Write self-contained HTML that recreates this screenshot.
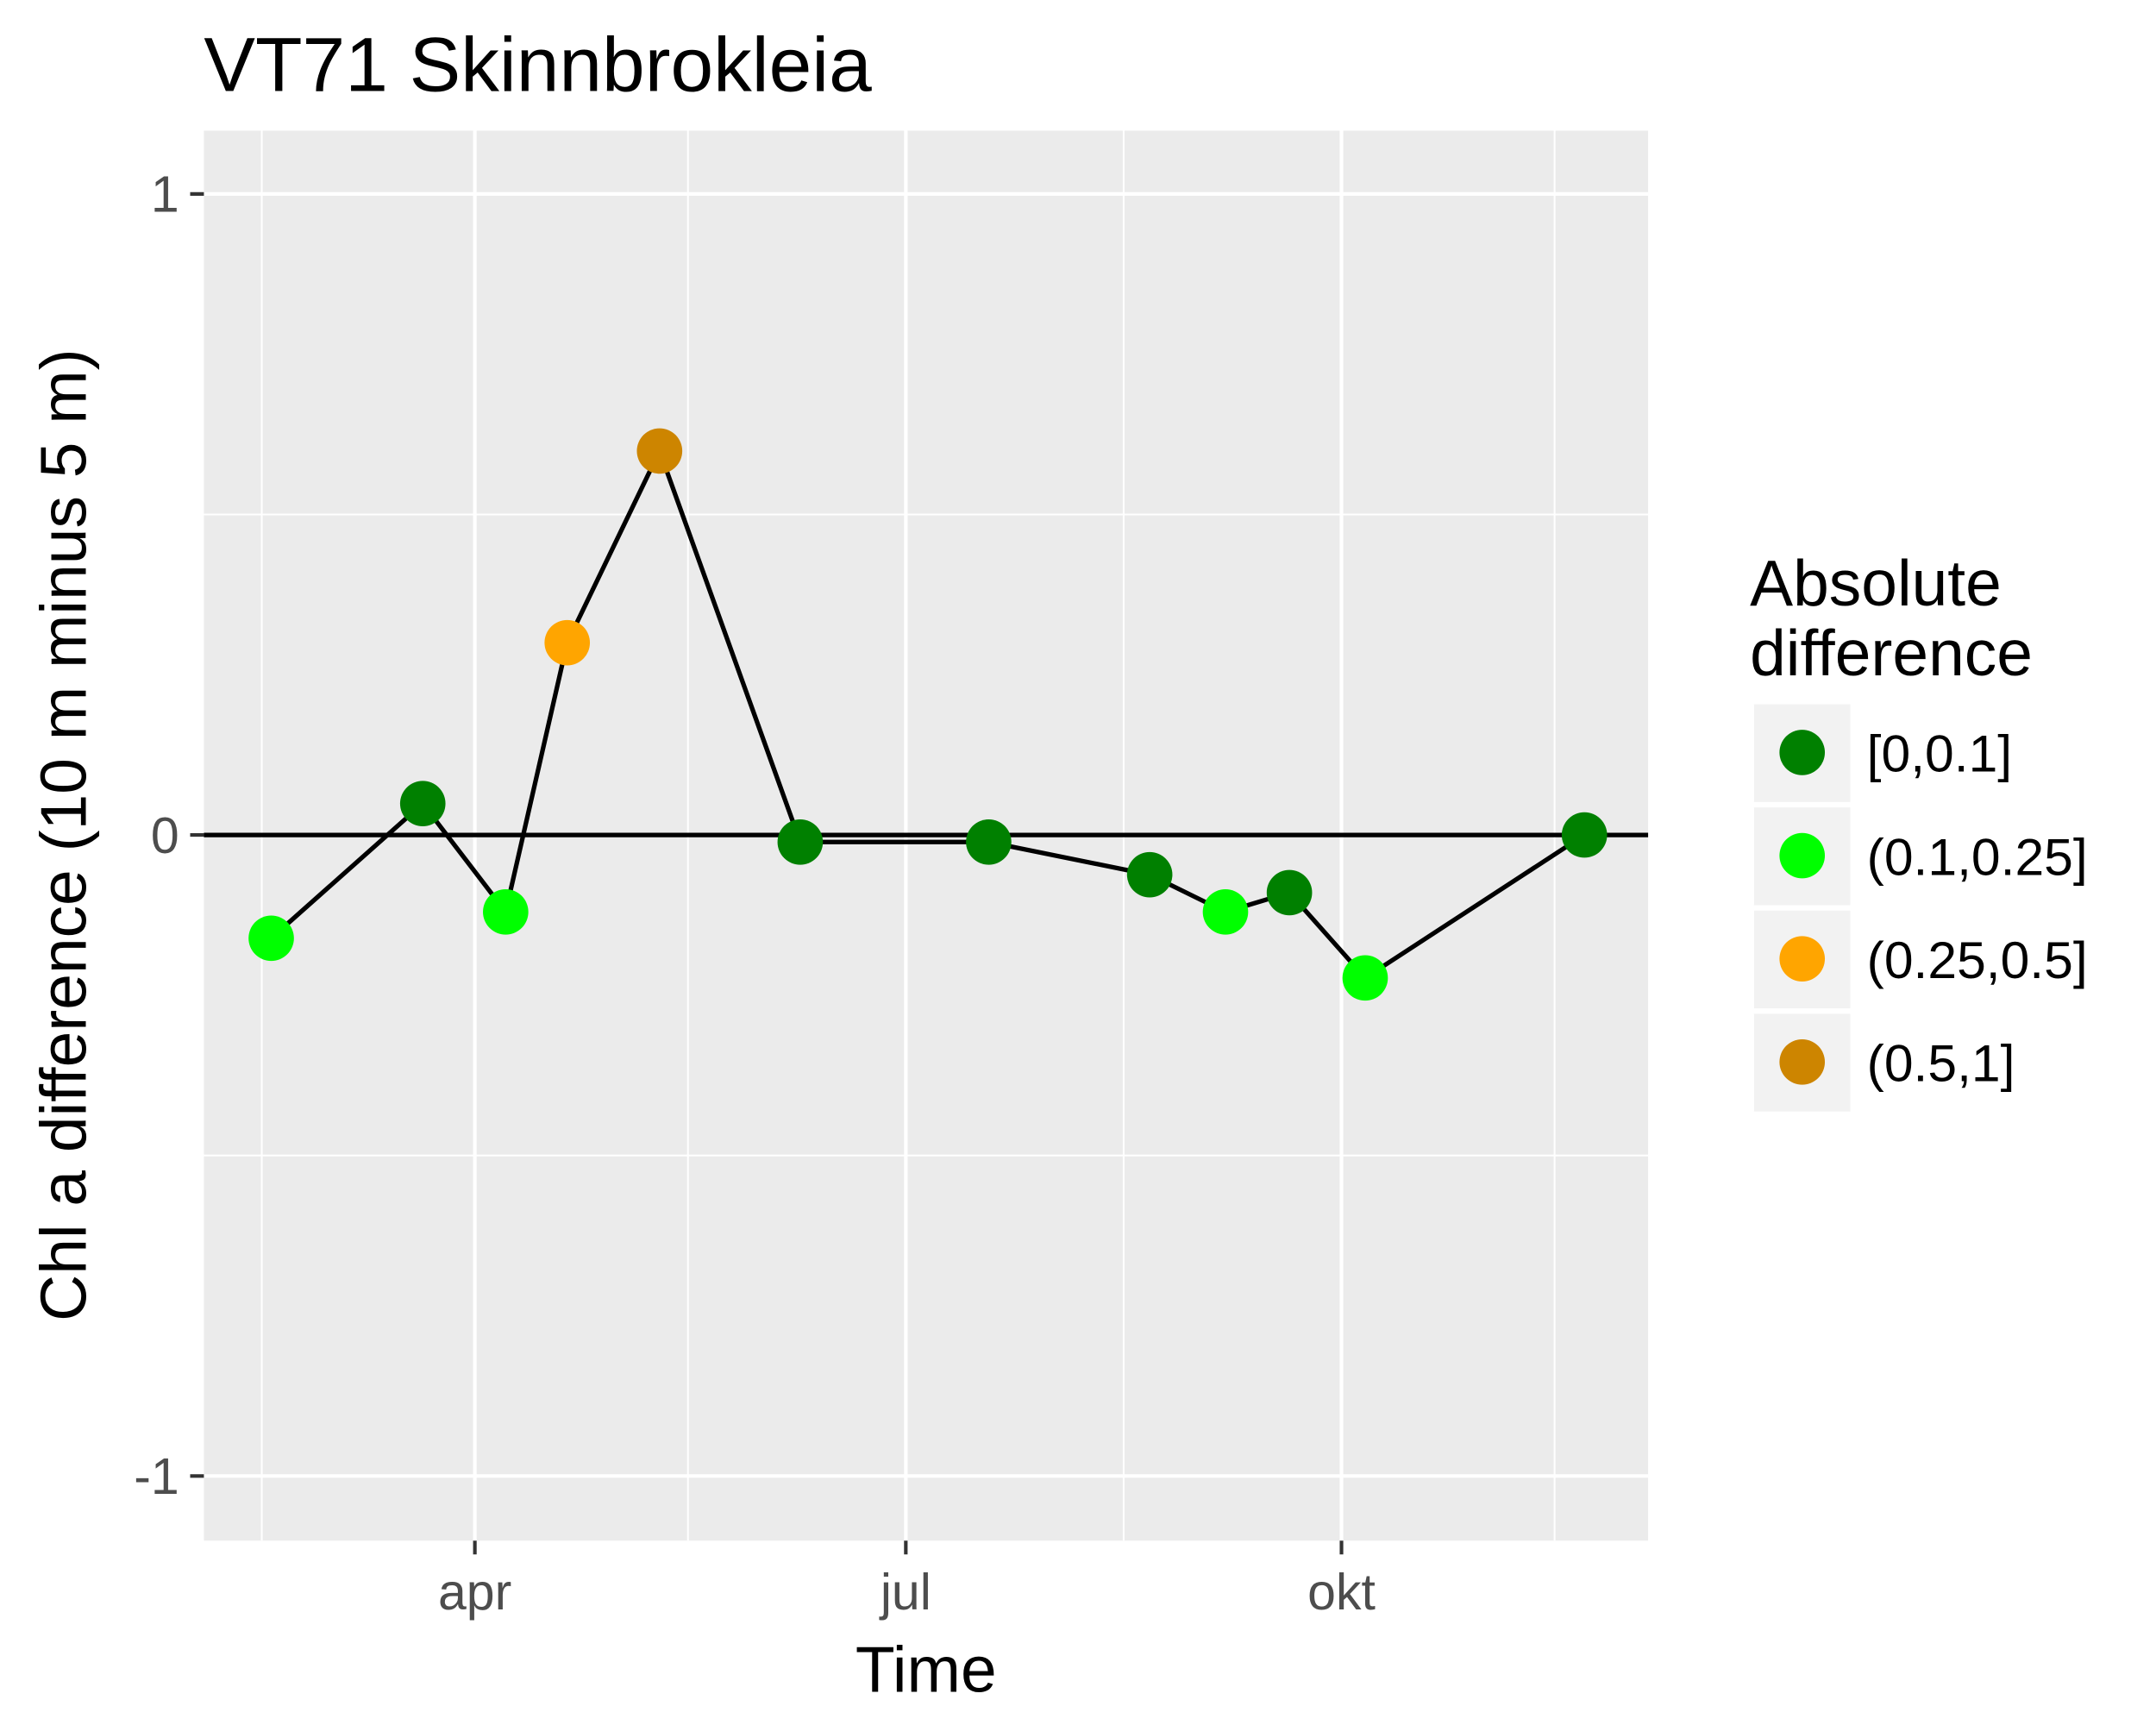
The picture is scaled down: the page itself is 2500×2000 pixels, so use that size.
<!DOCTYPE html>
<html><head><meta charset="utf-8"><style>html,body{margin:0;padding:0;background:#fff}svg{display:block}text{font-family:"Liberation Sans",Arial,sans-serif}</style></head>
<body>
<svg id="chart" width="2500" height="2000" viewBox="0 0 1567 1254" xmlns="http://www.w3.org/2000/svg">
<rect width="1567" height="1254" fill="#fff"/>
<text x="148" y="66" font-size="56" fill="#000">VT71 Skinnbrokleia</text>
<rect x="148" y="95" width="1050" height="1025" fill="#ebebeb"/>
<g id="grid"></g>
<line x1="148" x2="1198" y1="607" y2="607" stroke="#000" stroke-width="3.3" id="zeroline"/>
<g id="series"></g>
<g id="axes"></g>
<text x="673" y="1230" font-size="47" text-anchor="middle">Time</text>
<text transform="translate(62,607) rotate(-90)" font-size="47" text-anchor="middle">Chl a difference (10 m minus 5 m)</text>
<g>
<text x="1272" y="440" font-size="47"><tspan x="1272">Absolute</tspan><tspan x="1272" y="491">difference</tspan></text>
<g id="legend-keys"></g>
</g>
</svg>
<script>
const dayOfYear = [48, 80, 97.5, 110.5, 130, 159.7, 199.5, 233.5, 249.5, 263, 279, 325.3];
const diffValues = [-0.161, 0.049, -0.120, 0.300, 0.599, -0.011, -0.011, -0.062, -0.120, -0.090, -0.223, 0.0];
const categories = ["[0,0.1]", "(0.1,0.25]", "(0.25,0.5]", "(0.5,1]"];
const catColors = ["#008000", "#00ff00", "#ffa500", "#cd8500"];
const yTicks = [-1, 0, 1];
const yMinor = [-0.5, 0.5];
const xTickLabels = ["apr", "jul", "okt"];
const xTickDays = [91, 182, 274];
const xMinorDays = [46, 136, 228, 319];

const NS = "http://www.w3.org/2000/svg";
function xs(d){ return 345 + (d - 91) * 3.443; }
function ys(v){ return 607 - v * 466; }
function mk(tag, attrs, parent){ const e = document.createElementNS(NS, tag); for (const k in attrs) e.setAttribute(k, attrs[k]); parent.appendChild(e); return e; }
function catIndex(v){ const a = Math.abs(v); return a <= 0.1 ? 0 : a <= 0.25 ? 1 : a <= 0.5 ? 2 : 3; }

const grid = document.getElementById('grid');
yMinor.forEach(v => { const l = mk('line', {x1:148, x2:1198, y1:ys(v), y2:ys(v), stroke:'#fff', 'stroke-width':1.3}, grid);

 });
xMinorDays.forEach(d => { const l = mk('line', {x1:xs(d), x2:xs(d), y1:95, y2:1120, stroke:'#fff', 'stroke-width':1.3}, grid);

 });
yTicks.forEach(v => { const l = mk('line', {x1:148, x2:1198, y1:ys(v), y2:ys(v), stroke:'#fff', 'stroke-width':2.6}, grid);

 });
xTickDays.forEach(d => { const l = mk('line', {x1:xs(d), x2:xs(d), y1:95, y2:1120, stroke:'#fff', 'stroke-width':2.6}, grid);

 });

const axes = document.getElementById('axes');
yTicks.forEach(v => {
  const t = mk('line', {x1:138, x2:148, y1:ys(v), y2:ys(v), stroke:'#333', 'stroke-width':2.6}, axes);
  
  
  const tx = mk('text', {x:130, y:ys(v)+13, 'font-size':37, fill:'#4d4d4d', 'text-anchor':'end'}, axes);
  tx.textContent = String(v);
  
  
});
xTickDays.forEach((d, i) => {
  const t = mk('line', {x1:xs(d), x2:xs(d), y1:1120, y2:1130, stroke:'#333', 'stroke-width':2.6}, axes);
  
  
  const tx = mk('text', {x:xs(d), y:1170, 'font-size':37, fill:'#4d4d4d', 'text-anchor':'middle'}, axes);
  tx.textContent = xTickLabels[i];
  
  
});

const series = document.getElementById('series');
const pl = mk('polyline', {points: dayOfYear.map((d,i)=>xs(d)+','+ys(diffValues[i])).join(' '), fill:'none', stroke:'#000', 'stroke-width':3.3}, series);


dayOfYear.forEach((d, i) => {
  const c = mk('circle', {cx:xs(d), cy:ys(diffValues[i]), r:16.5, fill:catColors[catIndex(diffValues[i])]}, series);
  
  
});

const lk = document.getElementById('legend-keys');
categories.forEach((c, i) => {
  const y0 = 512 + i * 75;
  const r = mk('rect', {x:1275, y:y0, width:70, height:71, fill:'#f2f2f2'}, lk);
  
  
  const ci = mk('circle', {cx:1310, cy:y0+35, r:16.5, fill:catColors[i]}, lk);
  
  
  const t = mk('text', {x:1357, y:y0+49, 'font-size':38, fill:'#000'}, lk);
  t.textContent = c;
  
  
});
</script>
</body></html>
